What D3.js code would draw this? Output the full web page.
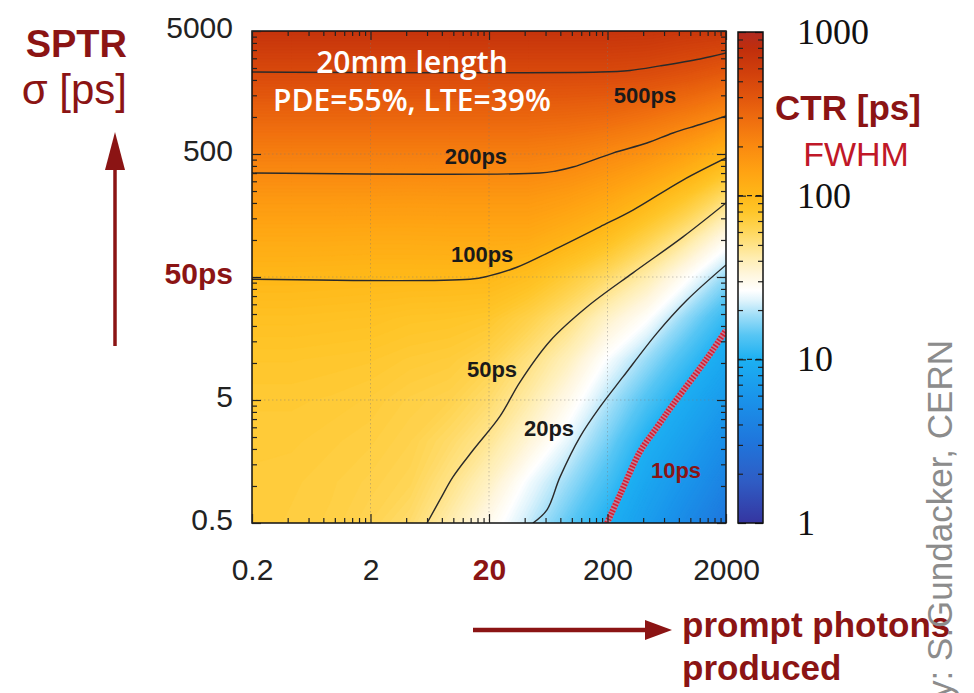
<!DOCTYPE html>
<html lang="en">
  <head>
    <meta charset="UTF-8" />
    <title>CTR map: SPTR vs prompt photons</title>
    <script src="https://cdn.jsdelivr.net/npm/d3@7/dist/d3.min.js"></script>
    <style>
      body { margin: 0; background: #fff; }
      svg { display: block; }
    </style>
  </head>
  <body>
    <svg id="chart" width="974" height="693"></svg>
    <script>
      // grid of the CTR map (3 steps per decade on both axes)
      var photons = [0.2, 0.431, 0.928, 2, 4.31, 9.28, 20, 43.1, 92.8, 200, 431, 928, 2000];
      var sptr = [0.5, 1.08, 2.32, 5, 10.8, 23.2, 50, 108, 232, 500, 1077, 2321, 5000];
      // CTR FWHM in ps, one row per sptr value (bottom row first)
      var ctr = [
        [72, 70, 68, 63, 56, 42, 29.5, 21, 14.5, 10, 6.9, 4.7, 3.2],
        [72, 71, 69, 66, 62, 50, 37.6, 25, 18.2, 12.6, 8.2, 5.9, 4.1],
        [73, 73, 71, 69, 65, 57, 47, 34, 23.4, 15.8, 10, 7.3, 5.2],
        [75, 75, 74, 72, 68, 65, 56, 43, 30, 19.7, 13.3, 9.1, 6.6],
        [79, 79, 78, 77, 74, 72, 65, 52, 39, 25.7, 18.1, 12.3, 8.5],
        [87, 87, 86, 85, 82, 81, 78, 66, 52, 36.7, 26.9, 17.3, 11.5],
        [101, 101, 100, 99, 99, 99, 99, 90, 73, 57, 42, 27.5, 17.7],
        [126, 126, 126, 125, 125, 126, 126, 126, 110, 91, 67.5, 48.5, 30.8],
        [167, 167, 167, 167, 166, 167, 167, 167, 155, 135, 109, 82, 57],
        [232, 232, 232, 232, 232, 232, 232, 232, 221, 200, 176, 143, 107],
        [332, 332, 332, 332, 332, 332, 332, 332, 327, 316, 287, 250, 208],
        [484, 484, 484, 484, 484, 484, 484, 484, 484, 484, 471, 432, 379],
        [702, 702, 702, 702, 702, 702, 702, 702, 702, 702, 692, 655, 641]
      ];

      // iso-CTR lines: [photons, sptr]
      var ctr500 = [[0.2, 2320], [173, 2320], [310, 2390], [555, 2600], [1208, 2960], [2000, 3310]];
      var ctr200 = [[0.2, 350], [53.8, 350], [73.5, 364], [102, 392], [222, 509], [430, 614], [714, 741], [1208, 869], [2000, 1018]];
      var ctr100 = [[0.2, 48], [13.8, 48], [20, 51], [34.4, 60], [79.4, 88], [173, 128], [328, 175], [867, 307], [2000, 464]];
      var ctr50 = [[6.0, 0.5], [7.7, 0.77], [9.9, 1.18], [14.7, 1.96], [24.8, 3.7], [36.5, 7.0], [65.5, 15.1], [134, 28.5], [328, 54], [867, 106], [2000, 200]];
      var ctr20 = [[47, 0.5], [61.7, 0.64], [79.4, 1.18], [117, 2.5], [173, 4.4], [270, 7.7], [523, 17.5], [938, 32.5], [2000, 62.7]];
      var ctr10 = [[198, 0.5], [255, 0.85], [376, 1.9], [523, 3.0], [714, 4.6], [1208, 9.1], [1552, 12.8], [2000, 18.5]];

      var lineLabels = ["500ps", "200ps", "100ps", "50ps", "20ps", "10ps"];
      var labelPhotons = [414, 15.5, 17.5, 21.2, 64.2, 757];
      var labelSptr = [1510, 482, 76.9, 8.93, 2.96, 1.33];

      var xTicks = [0.2, 2, 20, 200, 2000];
      var yTicks = [0.5, 5, 50, 500, 5000];
      var cbTicks = [1, 10, 100, 1000];

      // ---- layout / style ----
      var plot = {left: 252, right: 726, top: 31, bottom: 523};
      var bar = {left: 738, right: 763, top: 32, bottom: 523};
      var darkRed = "#8b1414";
      var sans = "'Liberation Sans', Arial, sans-serif";

      // colour map on log10(CTR)
      var colorStops = [0, 0.25, 0.5, 0.75, 1.0, 1.15, 1.27, 1.36, 1.42, 1.52, 1.62, 1.72, 1.8, 1.9, 2.0, 2.15, 2.3, 2.45, 2.6, 2.75, 2.9, 3.0];
      var colorValues = ["#3535a0", "#2f5cc4", "#1f76dc", "#1a92ea", "#1cb0f2", "#58c6f4", "#a0def8", "#e0f4fc", "#ffffff",
                         "#fff6dc", "#ffedb0", "#ffe07c", "#ffd452", "#ffc62a", "#ffb818", "#ffa212", "#fa8a10", "#f0700f",
                         "#e2560d", "#d1400c", "#c02e0c", "#b02a22"];
      var color = d3.scaleLinear().domain(colorStops).range(colorValues).clamp(true);

      var svg = d3.select("#chart");

      var x = d3.scaleLog().domain([xTicks[0], xTicks[xTicks.length - 1]]).range([plot.left, plot.right]);
      var y = d3.scaleLog().domain([yTicks[0], yTicks[yTicks.length - 1]]).range([plot.bottom, plot.top]);
      var cb = d3.scaleLog().domain([cbTicks[0], cbTicks[cbTicks.length - 1]]).range([bar.bottom, bar.top]);

      var defs = svg.append("defs");
      defs.append("clipPath").attr("id", "plot-clip")
          .append("rect")
          .attr("x", plot.left).attr("y", plot.top)
          .attr("width", plot.right - plot.left).attr("height", plot.bottom - plot.top);

      // ---- heat map from the grid, through d3.contours ----
      var nx = photons.length, ny = sptr.length;
      var values = [];
      ctr.forEach(function(row) {
        row.forEach(function(v) { values.push(Math.log10(v)); });
      });
      var lx0 = Math.log10(photons[0]), lx1 = Math.log10(photons[nx - 1]);
      var ly0 = Math.log10(sptr[0]), ly1 = Math.log10(sptr[ny - 1]);
      var gridProj = d3.geoTransform({
        point: function(cx, cy) {
          var n = Math.pow(10, lx0 + (cx - 0.5) * (lx1 - lx0) / (nx - 1));
          var s = Math.pow(10, ly0 + (cy - 0.5) * (ly1 - ly0) / (ny - 1));
          this.stream.point(x(n), y(s));
        }
      });
      var step = 0.012;
      var bands = d3.range(0.3, 3.0, step);
      var heat = svg.append("g").attr("clip-path", "url(#plot-clip)");
      heat.append("rect")
          .attr("x", plot.left).attr("y", plot.top)
          .attr("width", plot.right - plot.left).attr("height", plot.bottom - plot.top)
          .attr("fill", color(bands[0]));
      heat.selectAll("path.band")
          .data(d3.contours().size([nx, ny]).thresholds(bands)(values))
          .enter()
          .append("path")
          .attr("class", "band")
          .attr("d", d3.geoPath(gridProj))
          .attr("fill", function(d) { return color(d.value + step / 2); })
          .attr("stroke", function(d) { return color(d.value + step / 2); })
          .attr("stroke-width", 0.6);

      // faint grid at the labelled ticks
      var grid = svg.append("g").attr("stroke", "#777").attr("stroke-opacity", 0.4)
                    .attr("stroke-dasharray", "1.5,2.5");
      grid.selectAll("line.gx").data(xTicks.slice(1, -1)).enter().append("line")
          .attr("x1", function(d) { return x(d); }).attr("x2", function(d) { return x(d); })
          .attr("y1", plot.top).attr("y2", plot.bottom);
      grid.selectAll("line.gy").data(yTicks.slice(1, -1)).enter().append("line")
          .attr("y1", function(d) { return y(d); }).attr("y2", function(d) { return y(d); })
          .attr("x1", plot.left).attr("x2", plot.right);

      // ---- iso-CTR lines ----
      var lineGen = d3.line()
                      .x(function(d) { return x(d[0]); })
                      .y(function(d) { return y(d[1]); })
                      .curve(d3.curveCatmullRom.alpha(0.5));
      var lines = svg.append("g").attr("clip-path", "url(#plot-clip)").attr("fill", "none");
      lines.selectAll("path.iso")
           .data([ctr500, ctr200, ctr100, ctr50, ctr20])
           .enter().append("path")
           .attr("class", "iso")
           .attr("d", lineGen)
           .attr("stroke", "#2a2a2a")
           .attr("stroke-width", 1.4);
      lines.append("path").datum(ctr10)
           .attr("d", lineGen)
           .attr("stroke", "#f07080").attr("stroke-opacity", 0.75)
           .attr("stroke-width", 6);
      lines.append("path").datum(ctr10)
           .attr("d", lineGen)
           .attr("stroke", "#d81e30")
           .attr("stroke-width", 6)
           .attr("stroke-dasharray", "1.6,1.6");

      svg.append("g").selectAll("text")
         .data(lineLabels)
         .enter().append("text")
         .attr("x", function(d, i) { return x(labelPhotons[i]); })
         .attr("y", function(d, i) { return y(labelSptr[i]); })
         .attr("dy", "0.35em")
         .attr("text-anchor", "middle")
         .attr("font-family", sans)
         .attr("font-weight", "bold")
         .attr("font-size", 22)
         .attr("fill", function(d) { return d === "10ps" ? darkRed : "#1a1a1a"; })
         .text(function(d) { return d; });

      // title inside the plot
      var inner = svg.append("g").attr("fill", "#fff").attr("text-anchor", "middle")
                     .attr("font-family", "'Open Sans', sans-serif").attr("font-weight", 600)
                     .attr("font-size", 30);
      inner.append("text").attr("x", 412).attr("y", 73).text("20mm length");
      inner.append("text").attr("x", 412).attr("y", 111).text("PDE=55%, LTE=39%");

      // ---- frame and ticks ----
      svg.append("rect")
         .attr("x", plot.left).attr("y", plot.top)
         .attr("width", plot.right - plot.left).attr("height", plot.bottom - plot.top)
         .attr("fill", "none").attr("stroke", "#111").attr("stroke-width", 1.5);

      function minors(majors) {
        var out = [];
        majors.slice(0, -1).forEach(function(b) {
          d3.range(2, 10).forEach(function(k) { out.push(b * k); });
        });
        return out;
      }

      function axis(fn, scale, vals, size, at, fmt, pad) {
        var g = svg.append("g")
                   .attr("transform", at)
                   .call(fn(scale).tickValues(vals).tickSize(size).tickPadding(pad || 0).tickFormat(fmt || ""));
        g.select(".domain").remove();
        g.attr("color", "#222").attr("font-family", sans).attr("font-size", 30);
        g.selectAll("line").attr("stroke-width", 1.2);
        return g;
      }

      var xMin = minors(xTicks), yMin = minors(yTicks), cbMin = minors(cbTicks);
      axis(d3.axisBottom, x, xMin, -5, "translate(0," + plot.bottom + ")");
      axis(d3.axisTop, x, xMin, -5, "translate(0," + plot.top + ")");
      axis(d3.axisLeft, y, yMin, -5, "translate(" + plot.left + ",0)");
      axis(d3.axisRight, y, yMin, -5, "translate(" + plot.right + ",0)");
      axis(d3.axisTop, x, xTicks, -9, "translate(0," + plot.top + ")");
      axis(d3.axisRight, y, yTicks, -9, "translate(" + plot.right + ",0)");

      var xAxis = axis(d3.axisBottom, x, xTicks, -9, "translate(0," + plot.bottom + ")",
                       function(d) { return String(d); }, 36);
      xAxis.selectAll("text").filter(function(d) { return d === 20; })
           .attr("fill", darkRed).attr("font-weight", "bold");

      var yAxis = axis(d3.axisLeft, y, yTicks, -9, "translate(" + plot.left + ",0)",
                       function(d) { return d === 50 ? "50ps" : String(d); }, 19);
      yAxis.selectAll("text").attr("dy", "0.22em");
      yAxis.selectAll("text").filter(function(d) { return d === 50; })
           .attr("fill", darkRed).attr("font-weight", "bold");

      // ---- colour bar ----
      var grad = defs.append("linearGradient").attr("id", "cbar")
                     .attr("x1", 0).attr("y1", 1).attr("x2", 0).attr("y2", 0);
      grad.selectAll("stop").data(colorStops).enter().append("stop")
          .attr("offset", function(d) { return d / 3; })
          .attr("stop-color", function(d, i) { return colorValues[i]; });
      svg.append("rect")
         .attr("x", bar.left).attr("y", bar.top)
         .attr("width", bar.right - bar.left).attr("height", bar.bottom - bar.top)
         .attr("fill", "url(#cbar)");
      svg.append("g").selectAll("line").data(cbTicks.slice(1, -1)).enter().append("line")
         .attr("x1", bar.left).attr("x2", bar.right)
         .attr("y1", function(d) { return cb(d); }).attr("y2", function(d) { return cb(d); })
         .attr("stroke", "#222").attr("stroke-width", 1.3).attr("stroke-dasharray", "5,4");
      axis(d3.axisLeft, cb, cbMin, -5, "translate(" + bar.left + ",0)");
      axis(d3.axisRight, cb, cbMin, -5, "translate(" + bar.right + ",0)");
      axis(d3.axisLeft, cb, cbTicks, -8, "translate(" + bar.left + ",0)");
      var cbAxis = axis(d3.axisRight, cb, cbTicks, -8, "translate(" + bar.right + ",0)",
                        function(d) { return String(d); }, 34);
      cbAxis.attr("font-family", "'Liberation Serif', 'Times New Roman', serif").attr("font-size", 36)
            .attr("color", "#111");
      svg.append("rect")
         .attr("x", bar.left).attr("y", bar.top)
         .attr("width", bar.right - bar.left).attr("height", bar.bottom - bar.top)
         .attr("fill", "none").attr("stroke", "#111").attr("stroke-width", 1.5);

      svg.append("text").attr("x", 848).attr("y", 120).attr("text-anchor", "middle")
         .attr("font-family", sans).attr("font-weight", "bold").attr("font-size", 35)
         .attr("fill", darkRed).text("CTR [ps]");
      svg.append("text").attr("x", 856).attr("y", 166).attr("text-anchor", "middle")
         .attr("font-family", sans).attr("font-size", 34)
         .attr("fill", "#c01828").text("FWHM");

      // ---- axis titles and arrows ----
      svg.append("text").attr("x", 127).attr("y", 57).attr("text-anchor", "end")
         .attr("font-family", sans).attr("font-weight", "bold").attr("font-size", 38)
         .attr("fill", darkRed).text("SPTR");
      svg.append("text").attr("x", 127).attr("y", 104).attr("text-anchor", "end")
         .attr("font-family", sans).attr("font-size", 42)
         .attr("fill", darkRed).text("σ [ps]");

      svg.append("line").attr("x1", 115).attr("x2", 115).attr("y1", 346).attr("y2", 160)
         .attr("stroke", darkRed).attr("stroke-width", 3.5);
      svg.append("polygon").attr("points", "115,132 105,170 125,170").attr("fill", darkRed);

      svg.append("line").attr("x1", 473).attr("x2", 650).attr("y1", 630).attr("y2", 630)
         .attr("stroke", darkRed).attr("stroke-width", 4.5);
      svg.append("polygon").attr("points", "672,630 645,620 645,640").attr("fill", darkRed);

      svg.append("text").attr("x", 682).attr("y", 637)
         .attr("font-family", sans).attr("font-weight", "bold").attr("font-size", 35)
         .attr("fill", darkRed).text("prompt photons");
      svg.append("text").attr("x", 682).attr("y", 680)
         .attr("font-family", sans).attr("font-weight", "bold").attr("font-size", 35)
         .attr("fill", darkRed).text("produced");

      // credit, running up the right edge
      svg.append("text")
         .attr("transform", "translate(952,340) rotate(-90)")
         .attr("text-anchor", "end")
         .attr("font-family", sans).attr("font-size", 35)
         .attr("fill", "#8c8c8c")
         .text("Courtesy: S.Gundacker, CERN");
    </script>
  </body>
</html>
